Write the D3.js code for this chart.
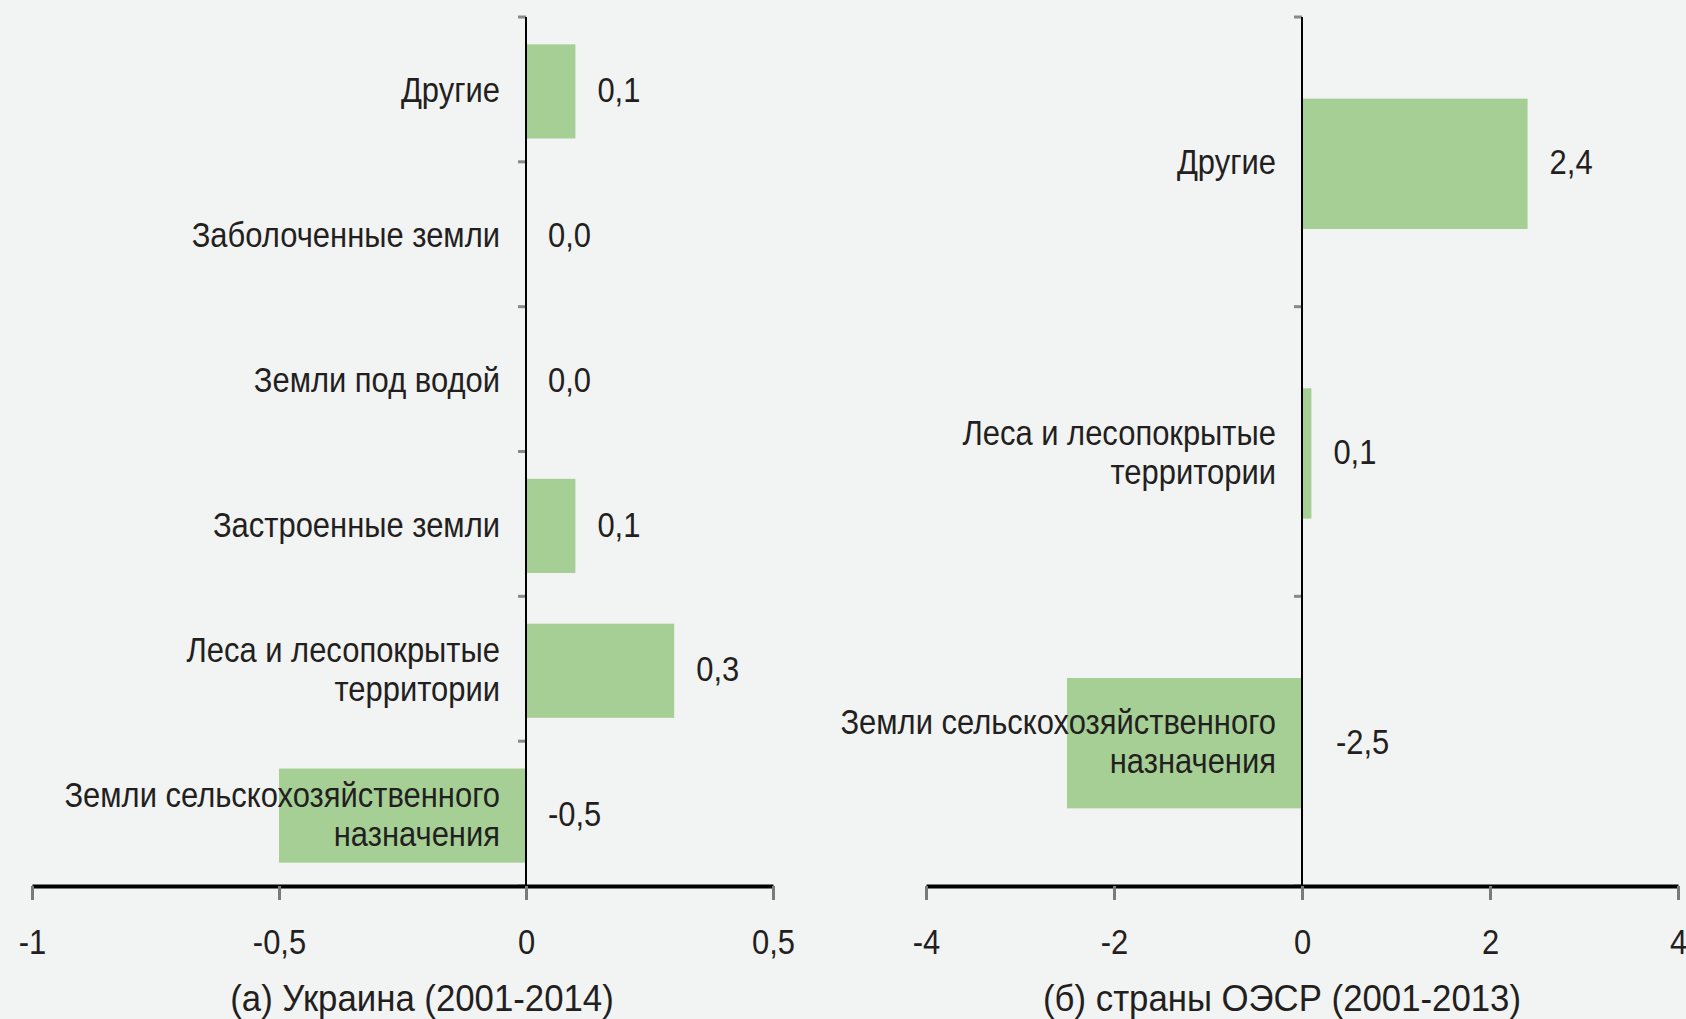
<!DOCTYPE html>
<html>
<head>
    <meta charset="utf-8">
    <style>
        body {
            margin: 0;
            background-color: #f2f3f3;
        }
        svg {
            display: block;
            font-family: 'Liberation Sans Narrow', 'Liberation Sans', Arial, sans-serif;
        }
        .lbl {
            fill: #231f20;
            font-size: 36px;
        }
    </style>
</head>
<body>
    <svg width="1686" height="1019"></svg>

<script src="https://d3js.org/d3.v7.min.js"></script>
<script>
    // (а) Украина
    let uaCats = ["Другие", "Заболоченные земли", "Земли под водой", "Застроенные земли",
        "Леса и лесопокрытые\nтерритории", "Земли сельскохозяйственного\nназначения"]
    let uaVals = [0.1, 0.0, 0.0, 0.1, 0.3, -0.5]
    let uaTicks = [-1, -0.5, 0, 0.5]

    // (б) страны ОЭСР
    let oecdCats = ["Другие", "Леса и лесопокрытые\nтерритории", "Земли сельскохозяйственного\nназначения"]
    let oecdVals = [2.4, 0.1, -2.5]
    let oecdTicks = [-4, -2, 0, 2, 4]

    let svg = d3.select("svg")
    let comma = d => String(d).replace(".", ",")
    let fmt1 = d => d.toFixed(1).replace(".", ",")
    let narrow = 0.86 // the original font is a condensed one

    function panel(cfg) {
        let x = d3.scaleLinear().domain(cfg.domain).range(cfg.xRange)
        let y = d3.scaleBand().domain(cfg.cats).range([17, 886])
            .paddingInner(cfg.pad).paddingOuter(cfg.pad / 2)

        let g = svg.append("g")

        // bars
        g.selectAll(".bar")
            .data(cfg.vals)
            .join("rect")
            .attr("class", "bar")
            .attr("x", d => x(Math.min(0, d)))
            .attr("width", d => Math.abs(x(d) - x(0)))
            .attr("y", (d, i) => y(cfg.cats[i]) + 2)
            .attr("height", y.bandwidth())
            .style("fill", "#a6cf95")

        // small category ticks on the vertical axis
        let bounds = d3.range(cfg.cats.length + 1).map(i => 17 + i * y.step())
        g.selectAll(".ytick")
            .data(bounds)
            .join("line")
            .attr("x1", x(0) - 8).attr("x2", x(0))
            .attr("y1", d => d).attr("y2", d => d)
            .style("stroke", "#888")
            .style("stroke-width", 3)

        // vertical zero line
        g.append("line")
            .attr("x1", x(0)).attr("x2", x(0))
            .attr("y1", 17).attr("y2", 886)
            .style("stroke", "#000")
            .style("stroke-width", 2)

        // x axis
        let ax = g.append("g")
            .attr("transform", "translate(0,886)")
            .call(d3.axisBottom(x).tickValues(cfg.ticks).tickFormat(comma).tickSize(14).tickSizeOuter(0))
        ax.select(".domain").style("stroke", "#000").style("stroke-width", 4)
        ax.selectAll(".tick line").style("stroke", "#7a7a7a").style("stroke-width", 3)
        ax.selectAll(".tick text")
            .attr("class", "lbl")
            .attr("y", 55)
            .attr("dy", "0.35em")
            .attr("transform", `scale(${narrow},1)`)

        // category labels
        g.selectAll(".cat")
            .data(cfg.cats)
            .join("text")
            .attr("class", "lbl")
            .attr("text-anchor", "end")
            .attr("transform", d => `translate(${x(0) - 26},${y(d) + y.bandwidth() / 2}) scale(${narrow},1)`)
            .each(function (d) {
                let lines = d.split("\n")
                let t = d3.select(this)
                lines.forEach((ln, k) => {
                    t.append("tspan")
                        .attr("x", 0)
                        .attr("y", (k - (lines.length - 1) / 2) * 39)
                        .attr("dy", "0.35em")
                        .text(ln)
                })
            })

        // value labels
        g.selectAll(".val")
            .data(cfg.vals)
            .join("text")
            .attr("class", "lbl")
            .attr("transform", (d, i) => `translate(${x(Math.max(0, d)) + cfg.valOff(d)},${y(cfg.cats[i]) + y.bandwidth() / 2}) scale(${narrow},1)`)
            .attr("dy", "0.35em")
            .text(fmt1)

        // panel caption
        g.append("text")
            .attr("class", "lbl")
            .attr("transform", `translate(${cfg.titleX},998) scale(0.94,1)`)
            .attr("dy", "0.35em")
            .attr("text-anchor", "middle")
            .style("font-size", "37px")
            .text(cfg.title)
    }

    panel({
        cats: uaCats, vals: uaVals, ticks: uaTicks,
        domain: [-1, 0.5], xRange: [32, 773], pad: 0.35,
        valOff: d => 22,
        title: "(а) Украина (2001-2014)", titleX: 422
    })

    panel({
        cats: oecdCats, vals: oecdVals, ticks: oecdTicks,
        domain: [-4, 4], xRange: [926, 1678], pad: 0.55,
        valOff: d => d < 0 ? 34 : 22,
        title: "(б) страны ОЭСР (2001-2013)", titleX: 1282
    })
</script>
</body>
</html>
